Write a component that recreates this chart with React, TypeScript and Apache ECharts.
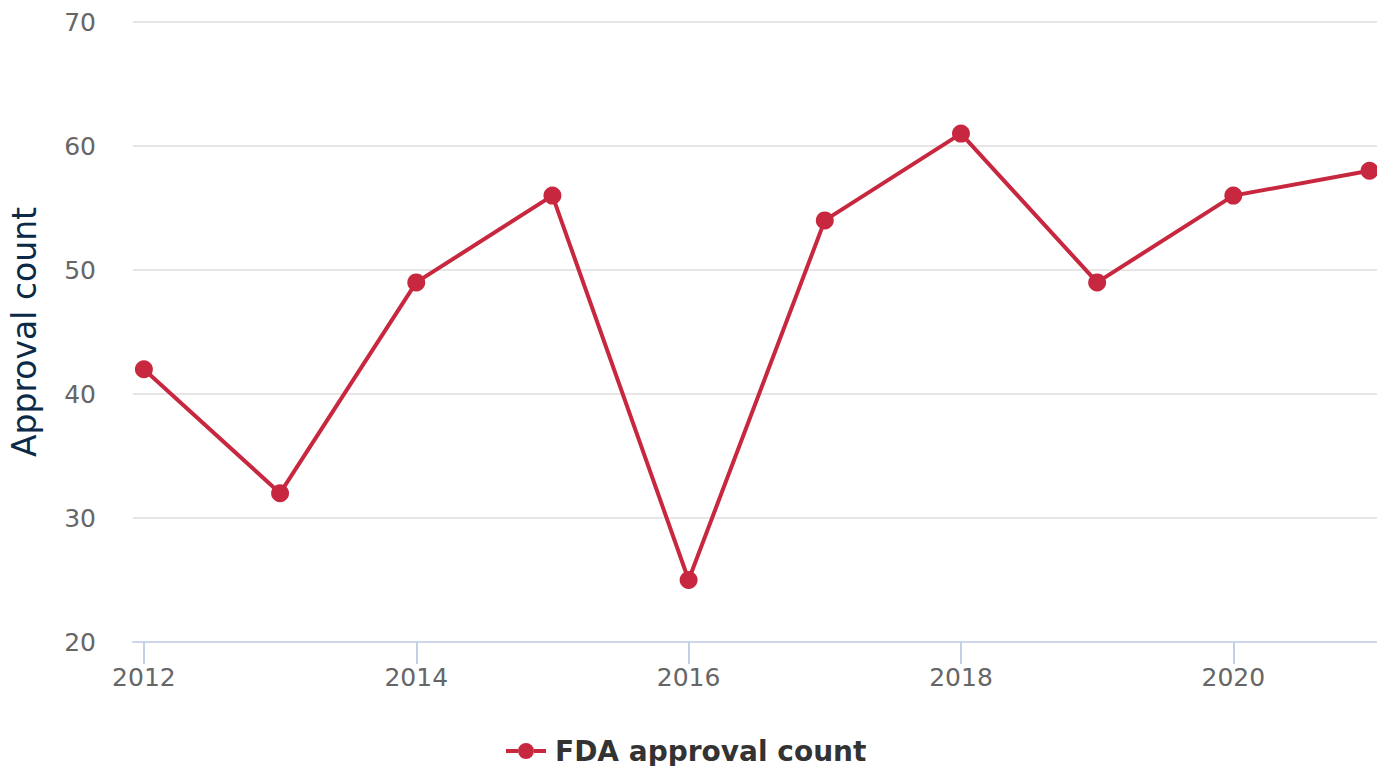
import React, { useEffect, useRef } from "react";
import * as echarts from "echarts";

const years = [2012, 2013, 2014, 2015, 2016, 2017, 2018, 2019, 2020, 2021];
const approvals = [42, 32, 49, 56, 25, 54, 61, 49, 56, 58];
const xTicks = [2012, 2014, 2016, 2018, 2020];
const seriesName = "FDA approval count";
const yTitle = "Approval count";

const legendIcon =
  "path://M0,6 L12,6 L12,10 L0,10 Z M28,6 L40,6 L40,10 L28,10 Z M12,8 A8,8 0 1,0 28,8 A8,8 0 1,0 12,8 Z";

export default function App() {
  const ref = useRef<HTMLDivElement>(null);
  useEffect(() => {
    document.body.style.margin = "0";
    const chart = echarts.init(ref.current!, null, { renderer: "svg" });
    const font = "DejaVu Sans, Verdana, sans-serif";
    chart.setOption({
      animation: false,
      grid: { left: 127, right: 0, top: 22, bottom: 124, containLabel: false },
      legend: {
        bottom: -4,
        left: 501,
        itemWidth: 40,
        itemHeight: 16,
        textStyle: { fontFamily: font, fontSize: 28, fontWeight: "bold", color: "#333333", padding: [0, 0, 0, 4] },
        data: [{ name: seriesName, icon: legendIcon }],
      },
      xAxis: {
        type: "value",
        min: 2011.92,
        max: 2021.055,
        axisLine: { show: true, lineStyle: { color: "#ccd6eb", width: 2 } },
        axisTick: { show: true, inside: false, length: 22, lineStyle: { color: "#c3cfe6", width: 2 }, customValues: xTicks },
        axisLabel: {
          customValues: xTicks,
          fontFamily: font,
          fontSize: 25,
          color: "#666666",
          margin: 23,
          verticalAlign: "top",
          formatter: (v: number) => String(Math.round(v)),
        },
        splitLine: { show: false },
      },
      yAxis: {
        type: "value",
        min: 20,
        max: 70,
        interval: 10,
        name: yTitle,
        nameLocation: "middle",
        nameGap: 92,
        nameTextStyle: { fontFamily: font, fontSize: 33, color: "#0b2a48" },
        axisLine: { show: false },
        axisTick: { show: false },
        axisLabel: { fontFamily: font, fontSize: 25, color: "#666666", margin: 37 },
        splitLine: { lineStyle: { color: "#e6e6e6", width: 2 } },
      },
      series: [
        {
          name: seriesName,
          type: "line",
          data: years.map((y, i) => [y, approvals[i]]),
          symbol: "circle",
          symbolSize: 18,
          lineStyle: { color: "#c8283f", width: 4 },
          itemStyle: { color: "#c8283f" },
          clip: false,
        },
      ],
    });
    return () => chart.dispose();
  }, []);
  return <div ref={ref} style={{ width: 1377, height: 766 }} />;
}
